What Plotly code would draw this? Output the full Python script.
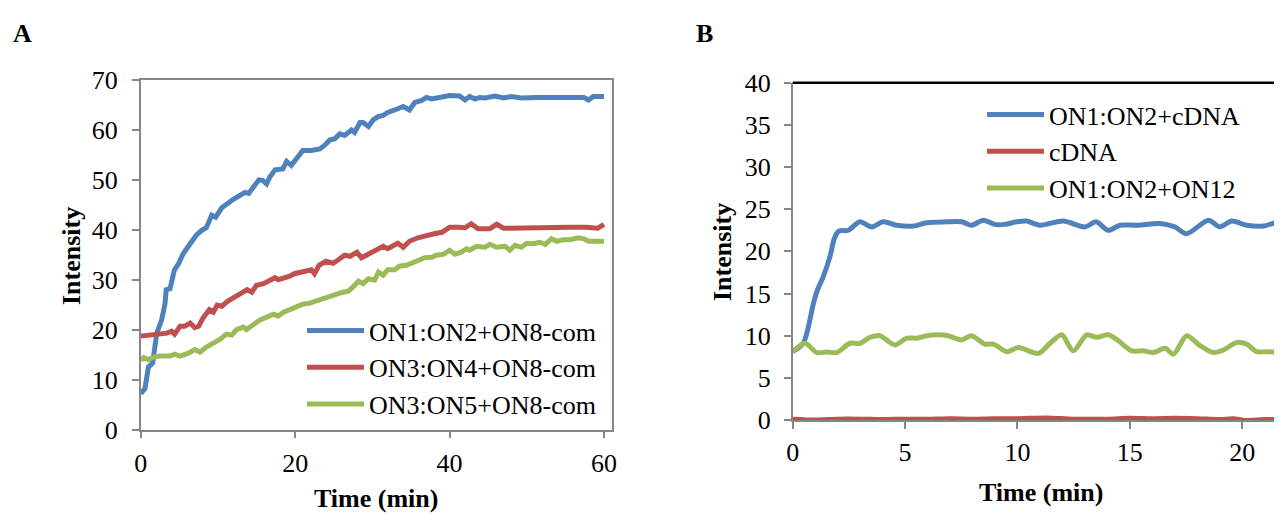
import plotly.graph_objects as go

# ---------------- Panel A data ----------------
a_names = ["ON1:ON2+ON8-com", "ON3:ON4+ON8-com", "ON3:ON5+ON8-com"]

a1_t = [0, 0.55, 1.0, 1.55, 2.07, 2.7, 3.15, 3.3, 3.8, 4.35, 4.9, 5.5, 6.4, 7.2, 7.9, 8.5, 9.2, 9.7,
        10.5, 11.1, 12.0, 12.85, 13.5, 14.0, 14.6, 15.3, 15.8, 16.3, 16.7, 17.4, 18.4, 18.9, 19.5,
        20.2, 21.0, 22.1, 23.2, 23.8, 24.5, 25.1, 25.8, 26.4, 27.3, 27.7, 28.4, 28.8, 29.5, 30.1,
        30.8, 31.4, 32.0, 32.9, 34.0, 34.8, 35.5, 36.4, 37.0, 37.7, 38.3, 39.0, 40.0, 41.3, 42.0,
        42.6, 43.3, 43.9, 44.6, 45.9, 47.0, 48.0, 49.3, 51.3, 53.0, 55.6, 57.4, 58.0, 58.6, 60.0]
a1_v = [7.2, 8.2, 12.5, 13.3, 19.2, 21.9, 25.2, 28.0, 28.2, 31.9, 33.2, 35.2, 37.2, 38.9, 39.9, 40.4, 42.9, 42.5,
        44.4, 45.2, 46.1, 46.9, 47.5, 47.3, 48.7, 50.0, 49.9, 49.2, 50.5, 52.0, 52.2, 53.7, 52.9,
        54.4, 55.9, 55.9, 56.2, 56.9, 58.0, 58.2, 59.2, 58.9, 60.0, 59.5, 61.5, 61.5, 60.7, 62.0,
        62.7, 62.9, 63.5, 64.0, 64.7, 64.0, 65.5, 65.9, 66.5, 66.2, 66.4, 66.8, 66.9, 66.8, 66.0,
        66.7, 66.2, 66.5, 66.4, 66.8, 66.4, 66.7, 66.4, 66.5, 66.5, 66.5, 66.5, 66.0, 66.7, 66.7]

a2_t = [0, 1.2, 2.5, 3.4, 4.0, 4.4, 5.1, 5.7, 6.4, 7.0, 7.5, 8.1, 8.9, 9.4, 9.9, 10.5, 11.3, 12.2,
        13.1, 13.8, 14.4, 15.0, 15.9, 16.7, 17.4, 17.8, 18.7, 19.3, 19.9, 20.6, 21.2, 22.1, 22.5,
        23.1, 24.0, 24.9, 25.6, 26.4, 27.1, 28.0, 28.6, 29.7, 30.5, 31.4, 32.0, 33.3, 34.0, 34.8,
        35.9, 37.0, 38.0, 39.0, 40.0, 41.1, 42.0, 42.8, 43.7, 45.2, 46.1, 47.0, 49.1, 51.3, 53.4,
        55.6, 57.7, 59.2, 60.0]
a2_v = [18.7, 18.9, 19.1, 19.3, 19.7, 19.1, 20.7, 20.7, 21.3, 20.4, 20.7, 22.4, 24.0, 23.5, 24.9, 24.7, 25.7, 26.5,
        27.5, 28.0, 27.5, 28.9, 29.2, 29.7, 30.4, 30.0, 30.4, 30.7, 31.2, 31.5, 31.5, 32.0, 31.2,
        32.9, 33.7, 33.3, 34.0, 34.9, 34.7, 35.5, 34.4, 35.2, 35.9, 36.7, 36.2, 37.3, 36.5, 37.7,
        38.4, 38.9, 39.2, 39.5, 40.5, 40.5, 40.4, 41.2, 40.2, 40.2, 41.1, 40.3, 40.4, 40.4, 40.5,
        40.5, 40.5, 40.3, 41.1]

a3_t = [0, 0.4, 1.0, 1.6, 2.5, 3.8, 4.4, 5.1, 6.2, 7.0, 7.7, 8.5, 9.4, 10.2, 11.1, 11.8, 12.4, 13.3,
        13.7, 14.6, 15.4, 16.3, 17.2, 17.8, 18.5, 19.3, 20.2, 21.0, 21.9, 22.6, 23.4, 24.3, 25.4,
        26.2, 26.9, 27.6, 28.2, 28.8, 29.5, 30.3, 30.8, 31.4, 32.0, 32.9, 33.5, 34.4, 35.1, 35.9,
        36.8, 37.7, 38.3, 39.2, 40.0, 40.7, 41.5, 42.2, 42.6, 43.5, 44.6, 45.2, 46.1, 47.2, 47.8,
        48.5, 49.3, 50.0, 50.8, 51.7, 52.4, 53.2, 53.9, 54.7, 55.6, 56.7, 57.4, 58.0, 59.1, 60.0]
a3_v = [13.9, 14.4, 14.0, 14.5, 14.7, 14.7, 15.1, 14.7, 15.3, 16.0, 15.5, 16.5, 17.3, 18.0, 19.1, 18.9, 20.0, 20.5,
        20.0, 21.1, 21.9, 22.5, 23.1, 22.7, 23.5, 24.0, 24.5, 25.1, 25.3, 25.7, 26.2, 26.5, 27.1,
        27.5, 27.7, 28.7, 29.7, 29.2, 30.2, 29.9, 31.5, 30.9, 32.0, 32.0, 32.7, 32.9, 33.3, 33.7,
        34.4, 34.5, 34.9, 35.1, 35.9, 35.1, 35.5, 36.2, 35.9, 36.7, 36.5, 37.1, 36.5, 36.7, 35.9,
        36.9, 36.5, 37.3, 37.2, 37.5, 37.1, 38.2, 37.7, 38.0, 38.0, 38.4, 38.2, 37.7, 37.7, 37.7]

a_xticks = [0, 20, 40, 60]
a_yticks = [0, 10, 20, 30, 40, 50, 60, 70]

# ---------------- Panel B data ----------------
b_names = ["ON1:ON2+cDNA", "cDNA", "ON1:ON2+ON12"]

b1_t = [0, 0.47, 0.92, 1.07, 1.36, 1.66, 1.85, 2.05, 2.47, 2.99, 3.51, 4.03, 4.62, 5.37, 5.96, 6.85,
        7.52, 7.96, 8.48, 9.0, 9.44, 9.96, 10.4, 11.0, 12.04, 13.0, 13.5, 14.04, 14.56, 15.37, 16.33,
        17.0, 17.53, 18.5, 19.0, 19.53, 20.2, 20.94, 21.77, 22.5]
b1_v = [8.1, 9.1, 13.8, 15.2, 17.0, 19.4, 21.5, 22.4, 22.5, 23.5, 22.9, 23.5, 23.1, 23.0, 23.4, 23.5,
        23.5, 23.1, 23.7, 23.2, 23.2, 23.5, 23.6, 23.1, 23.6, 22.9, 23.5, 22.5, 23.1, 23.1, 23.3,
        22.9, 22.1, 23.7, 22.9, 23.6, 23.1, 23.0, 23.6, 23.4]

b2_t = [0, 1, 2, 3, 4, 5, 6, 7, 8, 9, 10, 11.3, 12.5, 14, 15, 16, 17, 18, 19, 19.6, 20.1, 21, 22.5]
b2_v = [0.1, 0.0, 0.1, 0.1, 0.05, 0.1, 0.1, 0.15, 0.1, 0.15, 0.15, 0.25, 0.1, 0.1, 0.2, 0.15, 0.2,
        0.15, 0.05, 0.15, -0.05, 0.05, 0.1]

b3_t = [0, 0.55, 1.07, 1.51, 1.96, 2.55, 3.0, 3.44, 3.88, 4.55, 5.07, 5.52, 5.96, 6.4, 6.92, 7.5,
        7.96, 8.55, 8.93, 9.52, 10.04, 10.93, 11.45, 11.97, 12.48, 13.08, 13.52, 14.04, 14.49, 15.08,
        15.6, 16.05, 16.57, 16.94, 17.53, 18.13, 18.72, 19.16, 19.76, 20.2, 20.65, 21.09, 21.77, 22.5]
b3_v = [8.1, 9.1, 8.0, 8.06, 8.0, 9.1, 9.1, 9.8, 10.0, 8.9, 9.7, 9.7, 10.0, 10.1, 10.0, 9.5,
        10.0, 9.0, 9.0, 8.1, 8.6, 7.9, 9.1, 10.1, 8.2, 10.1, 9.8, 10.1, 9.4, 8.2,
        8.2, 8.0, 8.5, 7.8, 10.0, 8.8, 8.0, 8.3, 9.2, 9.0, 8.1, 8.1, 8.0, 8.0]

b_xticks = [0, 5, 10, 15, 20]
b_yticks = [0, 5, 10, 15, 20, 25, 30, 35, 40]

colors = ["#4F81BD", "#C0504D", "#9BBB59"]

W, H = 1282, 514
OFF = 8  # page body margin of the rendered html
FONT = "Liberation Serif"
FS = 26
AXIS_GRAY = "#868686"


def px(x):
    return (x - OFF) / W


def py(y):
    return 1 - (y - OFF) / H


fig = go.Figure()

for t, v, name, c in zip([a1_t, a2_t, a3_t], [a1_v, a2_v, a3_v], a_names, colors):
    fig.add_trace(go.Scatter(x=t, y=v, name=name, mode="lines",
                             line=dict(color=c, width=5),
                             xaxis="x", yaxis="y", legend="legend"))

for t, v, name, c in zip([b1_t, b2_t, b3_t], [b1_v, b2_v, b3_v], b_names, colors):
    fig.add_trace(go.Scatter(x=t, y=v, name=name, mode="lines",
                             line=dict(color=c, width=5, shape="spline", smoothing=0.8),
                             xaxis="x2", yaxis="y2", legend="legend2"))

axis_common = dict(showgrid=False, zeroline=False, showline=True, linecolor=AXIS_GRAY,
                   linewidth=1.5, ticks="outside", ticklen=7, tickcolor=AXIS_GRAY,
                   tickwidth=1.5, automargin=False,
                   tickfont=dict(family=FONT, size=FS, color="black"))

fig.update_layout(
    template="none",
    width=W, height=H, autosize=False,
    margin=dict(l=0, r=0, t=0, b=0, pad=0, autoexpand=False),
    paper_bgcolor="white", plot_bgcolor="white",
    font=dict(family=FONT, size=FS, color="black"),
    xaxis=dict(domain=[px(140.7), px(611.7)], range=[0, 61], tickvals=a_xticks,
               anchor="y", mirror=True, ticklabelstandoff=3, **axis_common),
    yaxis=dict(domain=[py(429.5), py(80)], range=[0, 70], tickvals=a_yticks,
               anchor="x", mirror=True, ticklabelstandoff=9, **axis_common),
    xaxis2=dict(domain=[px(792.7), px(1282)], range=[0, 21.77], tickvals=b_xticks,
                anchor="y2", ticklabelstandoff=1, **axis_common),
    yaxis2=dict(domain=[py(420), py(82.7)], range=[0, 40], tickvals=b_yticks,
                anchor="x2", ticklabelstandoff=8, **axis_common),
    legend=dict(x=px(302), y=py(307), xanchor="left", yanchor="top",
                bgcolor="rgba(0,0,0,0)", borderwidth=0, itemwidth=57,
                font=dict(family=FONT, size=FS, color="black")),
    legend2=dict(x=px(982), y=py(91), xanchor="left", yanchor="top",
                 bgcolor="rgba(0,0,0,0)", borderwidth=0, itemwidth=57,
                 font=dict(family=FONT, size=FS, color="black")),
    showlegend=True,
)

# top border of panel B (black)
fig.add_shape(type="line", xref="x2 domain", yref="y2 domain", x0=0, x1=1, y0=1, y1=1,
              line=dict(color="black", width=2.5))

ann = [
    dict(text="<b>A</b>", x=px(22), y=py(33)),
    dict(text="<b>B</b>", x=px(704), y=py(33)),
    dict(text="<b>Time (min)</b>", x=px(376), y=py(498)),
    dict(text="<b>Time (min)</b>", x=px(1041), y=py(492)),
    dict(text="<b>Intensity</b>", x=px(71), y=py(256), textangle=-90),
    dict(text="<b>Intensity</b>", x=px(722), y=py(252), textangle=-90),
]
for a in ann:
    fig.add_annotation(xref="paper", yref="paper", xanchor="center", yanchor="middle",
                       showarrow=False, font=dict(family=FONT, size=FS, color="black"), **a)

fig.write_html("out.html")
